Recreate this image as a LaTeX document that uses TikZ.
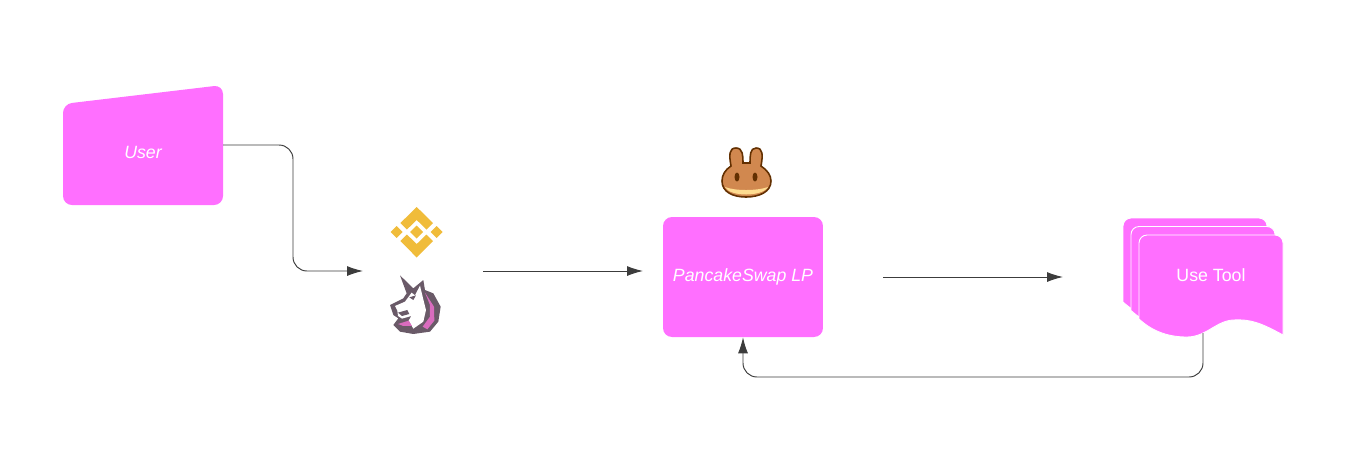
\documentclass[tikz,border=0pt]{standalone}
\usepackage{fontspec}
\setmainfont{Liberation Sans}
\usetikzlibrary{arrows.meta}
\definecolor{boxpink}{HTML}{FF6FFF}
\definecolor{linegray}{HTML}{3C3C3C}
\definecolor{bnbyellow}{HTML}{F0BC3A}
\definecolor{cakeline}{HTML}{633001}
\definecolor{cakebody}{HTML}{D1884F}
\definecolor{cakebase}{HTML}{FEDC90}
\definecolor{unidark}{HTML}{6A5A68}
\definecolor{unipink}{HTML}{D96CBE}
\tikzset{
  boxtext/.style={text=white, font=\fontsize{10.1}{12}\selectfont},
  link/.style={draw=linegray, line width=0.55pt, rounded corners=0.28cm,
    -{Latex[length=0.32cm, width=0.2cm]}},
  docsheet/.style={fill=boxpink, draw=white, line width=0.5pt},
}
\begin{document}
\begin{tikzpicture}[x=0.02cm, y=-0.02cm]
  \useasboundingbox (0,0) rectangle (1363,458);
  % user box
  \fill[boxpink, rounded corners=0.18cm] (63,205) -- (63,104) -- (223,85) -- (223,205) -- cycle;
  \node[boxtext] (user) at (143,152.5) {\itshape User};
  \coordinate (userout) at (223,145);
  % icons
  \coordinate (pairin) at (363,271);
  \coordinate (pairout) at (483,271);
  \fill[bnbyellow] (416.7,225.5) -- (423.2,232) -- (416.7,238.5) -- (410.2,232) -- cycle
    (396.7,226) -- (402.7,232) -- (396.7,238) -- (390.7,232) -- cycle
    (436.7,226) -- (442.7,232) -- (436.7,238) -- (430.7,232) -- cycle
    (416.7,207) -- (433,223) -- (426.5,229.5) -- (416.7,220) -- (406.9,229.5) -- (400.4,223) -- cycle
    (416.7,257.5) -- (433,241) -- (426.5,234.5) -- (416.7,244) -- (406.9,234.5) -- (400.4,241) -- cycle;
  \begin{scope}[shift={(370,190)}, scale=0.3333]
    \fill[unidark] (90,256) -- (130,295) -- (160,270) -- (165,300) -- (190,310)
      -- (212,350) -- (205,395) -- (180,425) -- (130,432) -- (90,425) -- (70,405) -- (85,385)
      -- (70,375) -- (60,345) -- (100,325) -- (110,310) -- cycle;
    \fill[white] (75,348) -- (105,335) -- (125,308) -- (135,316) -- (150,287) -- (158,320) -- (168,360)
      -- (160,395) -- (130,416) -- (116,392) -- (124,378) -- (96,386) -- (84,378) -- (82,362) -- cycle;
    \fill[unipink] (165,308) -- (192,350) -- (193,392) -- (172,418) -- (158,410) -- (180,380)
      -- (180,345) -- cycle;
    \fill[unidark] (84,368) -- (112,360) -- (118,372) -- (96,378) -- cycle;
    \fill[unipink] (84,402) -- (116,392) -- (126,408) -- (100,408) -- cycle;
    \fill[unidark] (118,322) -- (138,316) -- (130,330) -- cycle;
  \end{scope}
  % pancake icon
  \begin{scope}[line width=0.9pt]
    \filldraw[fill=cakebody, draw=cakeline] (731,166) .. controls (729,155) and (729,148) .. (736,148)
      .. controls (743,148) and (743,156) .. (743,163) -- (750,163)
      .. controls (750,156) and (750,148) .. (756,148) .. controls (763,148) and (763,155) .. (761,166)
      .. controls (767,170) and (771,175) .. (771,181) .. controls (771,192) and (759,197) .. (746,197)
      .. controls (733,197) and (722,192) .. (722,181) .. controls (722,175) and (725,170) .. (731,166) -- cycle;
    \fill[cakebase] (725,187) .. controls (735,191) and (757,191) .. (768,187)
      .. controls (762,197) and (730,197) .. (725,187) -- cycle;
    \fill[cakeline] (737,177) ellipse (2.5 and 4.5) (755,177) ellipse (2.5 and 4.5);
  \end{scope}
  % pool box
  \node[boxtext, fill=boxpink, rounded corners=0.18cm, minimum width=3.2cm, minimum height=2.4cm,
    inner sep=0pt] (pool) at (743,277) {\itshape PancakeSwap LP};
  \coordinate (poolin) at (643,271);
  \coordinate (poolout) at (883,277);
  % tool stack
  \foreach \sx/\sy in {0/0,8/8.5,16/17} {
    \begin{scope}[shift={(\sx,\sy)}]
      \path[docsheet] (1123,302) [rounded corners=0.16cm] -- (1123,218) -- (1267,218) [sharp corners]
        -- (1267,318) .. controls (1245,306) and (1235,302) .. (1217,303)
        .. controls (1200,304) and (1190,320) .. (1171,320)
        .. controls (1150,320) and (1135,313) .. cycle;
    \end{scope}
  }
  \node[boxtext] (tool) at (1211,275) {Use Tool};
  \coordinate (toolin) at (1063,277);
  \coordinate (toolout) at (1203,333);
  % connectors
  \draw[link] (userout) -| (293,208) |- (pairin);
  \draw[link] (pairout) -- (poolin);
  \draw[link] (poolout) -- (toolin);
  \draw[link] (toolout) |- (743,377) -- (pool.south);
\end{tikzpicture}
\end{document}
